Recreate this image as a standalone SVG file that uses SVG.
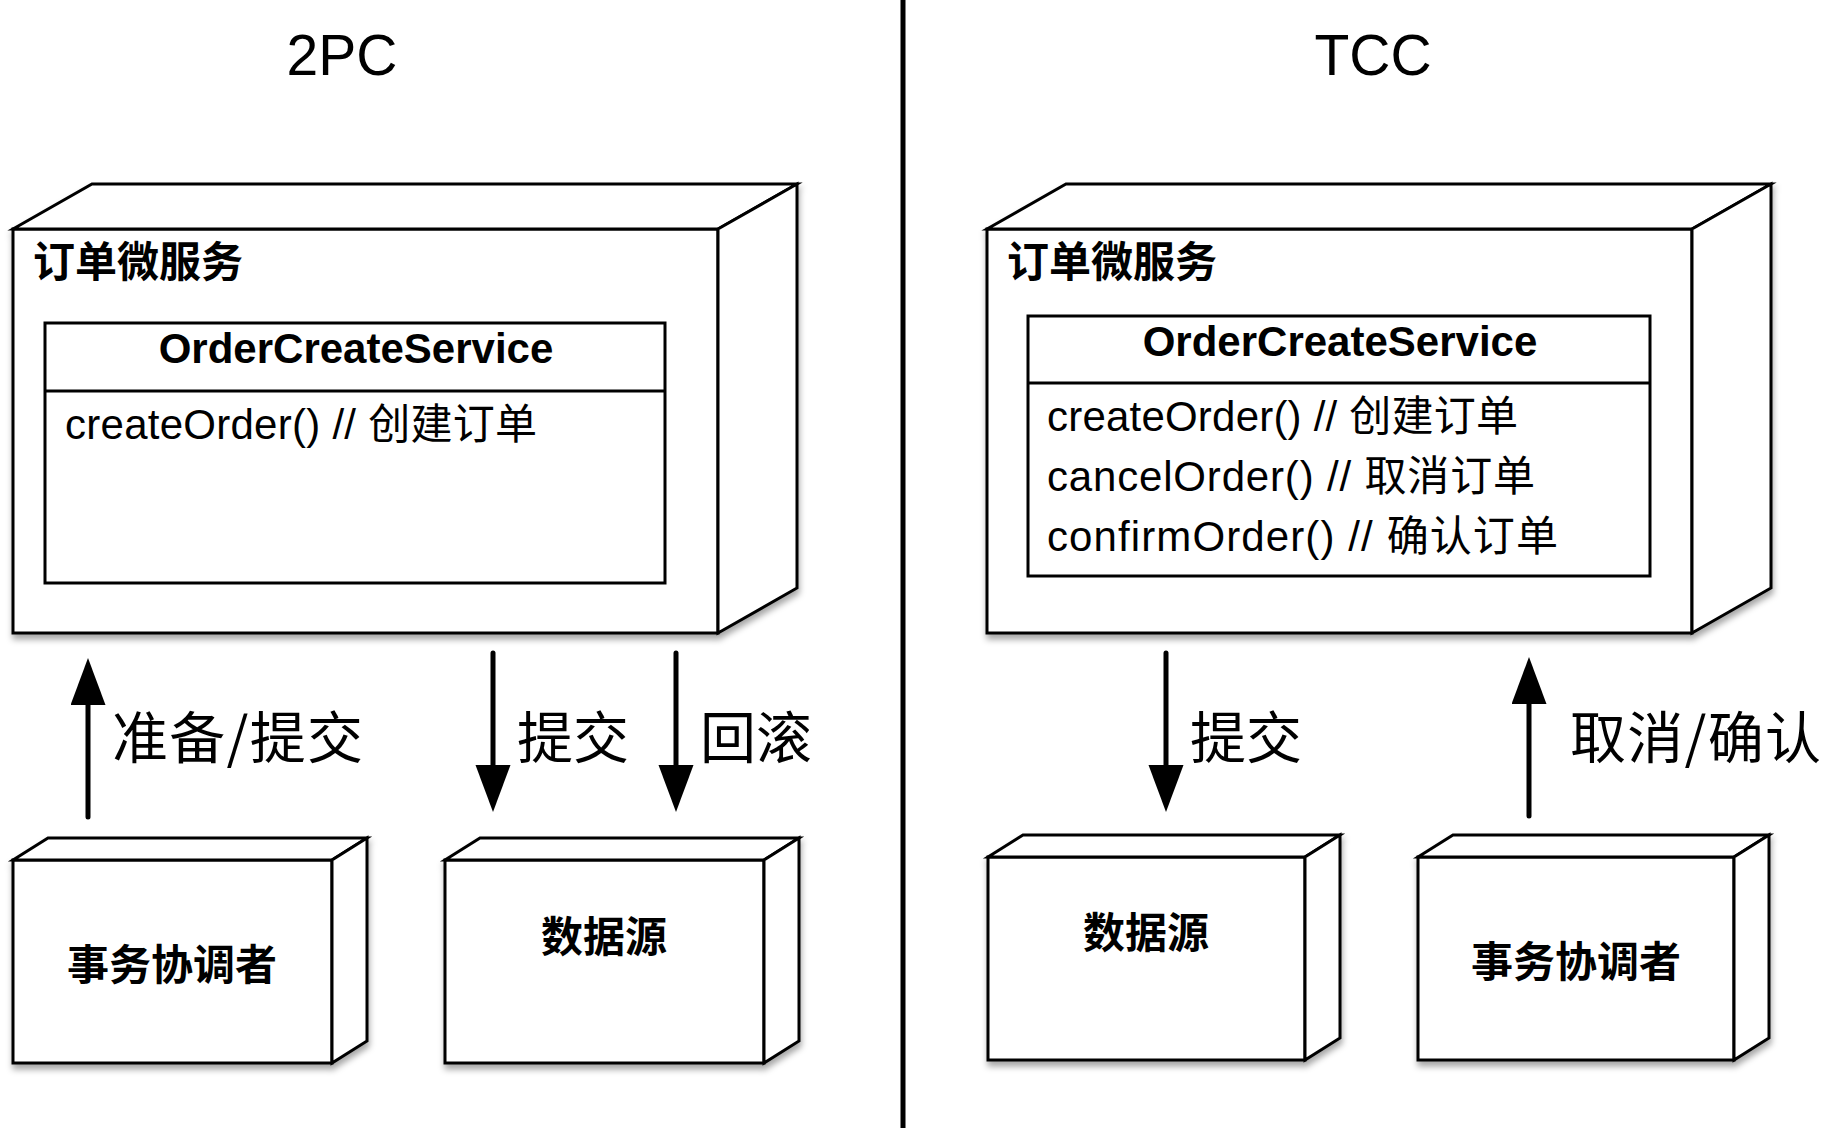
<svg xmlns="http://www.w3.org/2000/svg" width="1841" height="1134" viewBox="0 0 1841 1134">
  <style>
    .box { fill: #ffffff; stroke: #000000; stroke-width: 3; stroke-linejoin: miter; }
    .cls { fill: #ffffff; stroke: #000000; stroke-width: 3; }
    .title { font-family: "Liberation Sans", "Noto Sans CJK SC", sans-serif; font-size: 57px; fill: #000; text-anchor: middle; }
    .nodeLabel { font-family: "Noto Sans CJK SC", "Liberation Sans", sans-serif; font-size: 42px; font-weight: bold; fill: #000; }
    .boxLabel { font-family: "Noto Sans CJK SC", "Liberation Sans", sans-serif; font-size: 42px; font-weight: bold; fill: #000; text-anchor: middle; }
    .clsHead { font-family: "Liberation Sans", "Noto Sans CJK SC", sans-serif; font-size: 42px; font-weight: bold; fill: #000; text-anchor: middle; }
    .method { font-family: "Liberation Sans", "Noto Sans CJK SC", sans-serif; font-size: 42px; fill: #000; }
    .edgeLabel { font-family: "Noto Sans CJK SC", "Liberation Sans", sans-serif; font-size: 56px; fill: #000; }
    .shaft { stroke: #000; stroke-width: 5; stroke-linecap: round; fill: none; }
    .divider { stroke: #000; stroke-width: 5; }
  </style>
  <defs>
    <filter id="shadow" x="-5%" y="-5%" width="115%" height="125%">
      <feDropShadow dx="1" dy="5" stdDeviation="3" flood-color="#000000" flood-opacity="0.35"/>
    </filter>
    <marker id="head" markerUnits="userSpaceOnUse" markerWidth="48" markerHeight="36" refX="0" refY="17.5" orient="auto">
      <path d="M0,0 L47,17.5 L0,35 Z" fill="#000"/>
    </marker>
  </defs>

  <rect x="0" y="0" width="1841" height="1134" fill="#ffffff"/>

  <!-- titles -->
  <text class="title" x="342" y="75">2PC</text>
  <text class="title" x="1373" y="75">TCC</text>

  <!-- divider -->
  <line class="divider" x1="903" y1="0" x2="903" y2="1128"/>

  <!-- 2PC order microservice -->
  <g id="node-2pc-order-service">
    <g filter="url(#shadow)">
      <rect class="box" x="13" y="229" width="705" height="404"/>
      <path class="box" d="M13,229 L92,184 L797,184 L718,229 Z"/>
      <path class="box" d="M718,229 L797,184 L797,588 L718,633 Z"/>
    </g>
    <text class="nodeLabel" x="33" y="277">订单微服务</text>
    <g id="class-2pc-ordercreateservice">
      <rect class="cls" x="45" y="323" width="620" height="260"/>
      <line class="cls" x1="45" y1="391" x2="665" y2="391"/>
      <text class="clsHead" x="356" y="363">OrderCreateService</text>
      <text class="method" x="65" y="439" textLength="472" lengthAdjust="spacing">createOrder() // 创建订单</text>
    </g>
  </g>

  <!-- 2PC transaction coordinator -->
  <g id="node-2pc-coordinator">
    <g filter="url(#shadow)">
      <rect class="box" x="13" y="860" width="319" height="203"/>
      <path class="box" d="M13,860 L48,838 L367,838 L332,860 Z"/>
      <path class="box" d="M332,860 L367,838 L367,1041 L332,1063 Z"/>
    </g>
    <text class="boxLabel" x="172" y="980">事务协调者</text>
  </g>

  <!-- 2PC data source -->
  <g id="node-2pc-datasource">
    <g filter="url(#shadow)">
      <rect class="box" x="445" y="860" width="319" height="203"/>
      <path class="box" d="M445,860 L480,838 L799,838 L764,860 Z"/>
      <path class="box" d="M764,860 L799,838 L799,1041 L764,1063 Z"/>
    </g>
    <text class="boxLabel" x="604" y="952">数据源</text>
  </g>

  <!-- TCC order microservice -->
  <g id="node-tcc-order-service">
    <g filter="url(#shadow)">
      <rect class="box" x="987" y="229" width="705" height="404"/>
      <path class="box" d="M987,229 L1066,184 L1771,184 L1692,229 Z"/>
      <path class="box" d="M1692,229 L1771,184 L1771,588 L1692,633 Z"/>
    </g>
    <text class="nodeLabel" x="1007" y="277">订单微服务</text>
    <g id="class-tcc-ordercreateservice">
      <rect class="cls" x="1028" y="316" width="622" height="260"/>
      <line class="cls" x1="1028" y1="383" x2="1650" y2="383"/>
      <text class="clsHead" x="1340" y="356">OrderCreateService</text>
      <text class="method" x="1047" y="431" textLength="471" lengthAdjust="spacing">createOrder() // 创建订单</text>
      <text class="method" x="1047" y="491" textLength="488" lengthAdjust="spacing">cancelOrder() // 取消订单</text>
      <text class="method" x="1047" y="551" textLength="511" lengthAdjust="spacing">confirmOrder() // 确认订单</text>
    </g>
  </g>

  <!-- TCC data source -->
  <g id="node-tcc-datasource">
    <g filter="url(#shadow)">
      <rect class="box" x="988" y="857" width="317" height="203"/>
      <path class="box" d="M988,857 L1023,835 L1340,835 L1305,857 Z"/>
      <path class="box" d="M1305,857 L1340,835 L1340,1038 L1305,1060 Z"/>
    </g>
    <text class="boxLabel" x="1146" y="948">数据源</text>
  </g>

  <!-- TCC transaction coordinator -->
  <g id="node-tcc-coordinator">
    <g filter="url(#shadow)">
      <rect class="box" x="1418" y="857" width="316" height="203"/>
      <path class="box" d="M1418,857 L1453,835 L1769,835 L1734,857 Z"/>
      <path class="box" d="M1734,857 L1769,835 L1769,1038 L1734,1060 Z"/>
    </g>
    <text class="boxLabel" x="1576" y="977">事务协调者</text>
  </g>

  <!-- connectors -->
  <g id="connectors">
    <line class="shaft" x1="88" y1="817" x2="88" y2="705" marker-end="url(#head)"/>
    <text class="edgeLabel" x="112" y="758" textLength="251" lengthAdjust="spacing">准备/提交</text>

    <line class="shaft" x1="493" y1="653" x2="493" y2="765" marker-end="url(#head)"/>
    <text class="edgeLabel" x="517" y="758">提交</text>

    <line class="shaft" x1="676" y1="653" x2="676" y2="765" marker-end="url(#head)"/>
    <text class="edgeLabel" x="700" y="758">回滚</text>

    <line class="shaft" x1="1166" y1="653" x2="1166" y2="765" marker-end="url(#head)"/>
    <text class="edgeLabel" x="1190" y="758">提交</text>

    <line class="shaft" x1="1529" y1="816" x2="1529" y2="704" marker-end="url(#head)"/>
    <text class="edgeLabel" x="1570" y="758" textLength="251" lengthAdjust="spacing">取消/确认</text>
  </g>
</svg>
